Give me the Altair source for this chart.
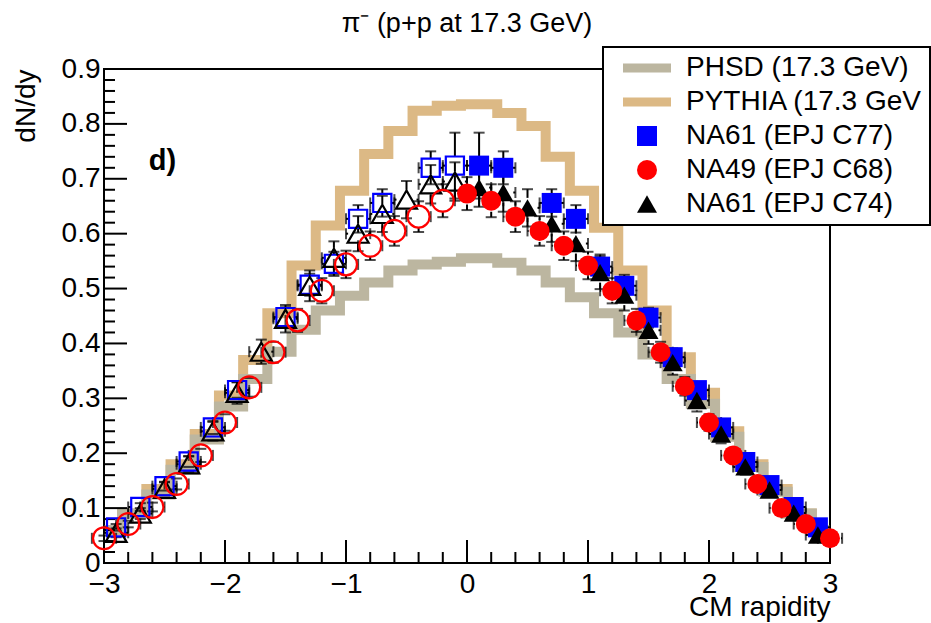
import altair as alt
import numpy as np
import pandas as pd

FONT = "Liberation Sans"

# ---------------- model histograms (bin edges in CM rapidity, heights dN/dy) -------------
hist_edges = [-3.0, -2.85, -2.65, -2.45, -2.25, -2.05, -1.85, -1.65, -1.45, -1.25, -1.05,
              -0.85, -0.65, -0.45, -0.25, -0.05, 0.25, 0.45, 0.65, 0.85, 1.05, 1.25, 1.45,
              1.65, 1.85, 2.05, 2.25, 2.45, 2.65, 2.85, 3.0]
pythia_h = [0.06, 0.09, 0.135, 0.18, 0.235, 0.305, 0.37, 0.455, 0.542, 0.615, 0.678, 0.745,
            0.787, 0.824, 0.833, 0.836, 0.82, 0.796, 0.74, 0.678, 0.611, 0.533, 0.46, 0.375,
            0.31, 0.24, 0.18, 0.135, 0.09, 0.06]
phsd_h = [0.06, 0.09, 0.125, 0.17, 0.225, 0.285, 0.335, 0.385, 0.425, 0.46, 0.487, 0.511,
          0.533, 0.544, 0.549, 0.555, 0.547, 0.533, 0.511, 0.484, 0.455, 0.42, 0.38, 0.335,
          0.29, 0.23, 0.175, 0.13, 0.09, 0.06]

# ---------------- NA61 (EPJ C77) blue squares ----------------
c77_x_fwd = [0.1, 0.3, 0.7, 0.9, 1.1, 1.3, 1.5, 1.7, 1.9, 2.1, 2.3, 2.5, 2.7, 2.9]
c77_y_fwd = [0.724, 0.720, 0.656, 0.627, 0.540, 0.505, 0.447, 0.375, 0.315, 0.247, 0.184,
             0.142, 0.102, 0.065]
c77_e_fwd = [0.06, 0.03, 0.025, 0.025, 0.022, 0.02, 0.018, 0.016, 0.014, 0.012, 0.01, 0.008,
             0.007, 0.006]
c77_x_bwd = [-2.9, -2.7, -2.5, -2.3, -2.1, -1.9, -1.5, -1.3, -1.1, -0.9, -0.7, -0.3, -0.1]
c77_y_bwd = [0.065, 0.102, 0.140, 0.185, 0.247, 0.315, 0.448, 0.507, 0.545, 0.627, 0.656,
             0.720, 0.724]
c77_e_bwd = [0.006, 0.007, 0.008, 0.01, 0.012, 0.014, 0.018, 0.02, 0.022, 0.025, 0.025, 0.03,
             0.06]

# ---------------- NA49 (EPJ C68) red circles ----------------
na49_x_fwd = [0.0, 0.2, 0.4, 0.6, 0.8, 1.0, 1.2, 1.4, 1.6, 1.8, 2.0, 2.2, 2.4, 2.6, 2.8, 3.0]
na49_y_fwd = [0.673, 0.660, 0.631, 0.605, 0.578, 0.542, 0.496, 0.442, 0.384, 0.322, 0.256,
              0.196, 0.144, 0.100, 0.071, 0.045]
na49_e_fwd = [0.03, 0.03, 0.028, 0.027, 0.026, 0.025, 0.023, 0.021, 0.019, 0.017, 0.015,
              0.012, 0.01, 0.008, 0.006, 0.005]
na49_x_bwd = [-3.0, -2.8, -2.6, -2.4, -2.2, -2.0, -1.8, -1.6, -1.4, -1.2, -1.0, -0.8, -0.6,
              -0.4, -0.2]
na49_y_bwd = [0.045, 0.071, 0.102, 0.144, 0.196, 0.256, 0.320, 0.384, 0.442, 0.496, 0.544,
              0.578, 0.605, 0.631, 0.660]
na49_e_bwd = [0.005, 0.006, 0.008, 0.01, 0.012, 0.015, 0.017, 0.019, 0.021, 0.023, 0.025,
              0.026, 0.027, 0.028, 0.03]

# ---------------- NA61 (EPJ C74) black triangles ----------------
c74_x_fwd = [0.1, 0.3, 0.5, 0.7, 0.9, 1.1, 1.3, 1.5, 1.7, 1.9, 2.1, 2.3, 2.5, 2.7, 2.9]
c74_y_fwd = [0.684, 0.675, 0.647, 0.618, 0.582, 0.529, 0.488, 0.424, 0.365, 0.296, 0.235,
             0.175, 0.133, 0.091, 0.051]
c74_e_fwd = [0.035, 0.035, 0.034, 0.033, 0.032, 0.03, 0.028, 0.025, 0.022, 0.02, 0.017,
             0.014, 0.012, 0.01, 0.008]
c74_x_bwd = [-2.9, -2.7, -2.5, -2.3, -2.1, -1.9, -1.7, -1.5, -1.3, -1.1, -0.9, -0.7, -0.5,
             -0.3, -0.1]
c74_y_bwd = [0.055, 0.090, 0.135, 0.180, 0.240, 0.310, 0.385, 0.445, 0.505, 0.556, 0.600,
             0.636, 0.662, 0.690, 0.695]
c74_e_bwd = [0.008, 0.01, 0.012, 0.014, 0.017, 0.02, 0.022, 0.025, 0.028, 0.03, 0.032,
             0.033, 0.034, 0.035, 0.035]

x_halfbin = 0.1

series_names = ["PHSD (17.3 GeV)", "PYTHIA (17.3 GeV", "NA61 (EPJ C77)", "NA49 (EPJ C68)",
                "NA61 (EPJ C74)"]

x_major = [-3, -2, -1, 0, 1, 2, 3]
y_major = [0.0, 0.1, 0.2, 0.3, 0.4, 0.5, 0.6, 0.7, 0.8, 0.9]
x_minor = [round(v, 2) for v in np.arange(-3.0, 3.001, 0.2) if abs(v - round(v)) > 1e-6]
y_minor = [round(v, 2) for v in np.arange(0.0, 0.9001, 0.02) if abs(v * 10 - round(v * 10)) > 1e-6]

# ---------------- styles ----------------
C_PHSD = "#BCB6A0"
C_PYTHIA = "#DCB985"
C_BLUE = "#0000FF"
C_RED = "#FF0000"
C_BLACK = "#000000"

W, H = 726, 494
X_DOM = [-3, 3]
Y_DOM = [0, 0.9]
# marker half-size in pixels (error bars stop at the marker edge, as in ROOT)
marker_half_px = {series_names[2]: 9, series_names[3]: 11, series_names[4]: 10}

xscale = alt.Scale(domain=X_DOM, nice=False, zero=False)
yscale = alt.Scale(domain=Y_DOM, nice=False, zero=False)
xaxis = alt.Axis(values=x_major, format="d", title="CM rapidity", labelFlush=False,
                 labelOverlap=False, labelPadding=7, ticks=False, tickSize=0, domain=False,
                 grid=False, titleX=W, titleY=52, titleAlign="right",
                 titleBaseline="alphabetic",
                 labelFont=FONT, labelFontSize=28, labelColor="black", titleFont=FONT,
                 titleFontSize=28, titleFontWeight="normal", titleColor="black")
yaxis = alt.Axis(values=y_major, format=".1~f", title="dN/dy", labelFlush=False,
                 labelOverlap=False, labelPadding=4, ticks=False, tickSize=0, domain=False,
                 grid=False, titleX=-78, titleY=0, titleAngle=270, titleAlign="right",
                 titleBaseline="middle",
                 labelFont=FONT, labelFontSize=28, labelColor="black", titleFont=FONT,
                 titleFontSize=28, titleFontWeight="normal", titleColor="black")


def X(f):
    return alt.X(f, type="quantitative", scale=xscale, axis=xaxis)


def Y(f):
    return alt.Y(f, type="quantitative", scale=yscale, axis=yaxis)


def hist_df(heights):
    return pd.DataFrame({"x": hist_edges, "y": list(heights) + [heights[-1]]})


pythia = alt.Chart(hist_df(pythia_h)).mark_line(
    interpolate="step-after", color=C_PYTHIA, strokeWidth=10, strokeCap="butt",
    strokeJoin="miter").encode(x=X("x"), y=Y("y"))
phsd = alt.Chart(hist_df(phsd_h)).mark_line(
    interpolate="step-after", color=C_PHSD, strokeWidth=10, strokeCap="butt",
    strokeJoin="miter").encode(x=X("x"), y=Y("y"))


def pts(xs, ys, es, name, filled):
    d = pd.DataFrame({"x": xs, "y": ys, "e": es})
    d["series"] = name
    d["filled"] = filled
    return d


all_pts = pd.concat([
    pts(c77_x_bwd, c77_y_bwd, c77_e_bwd, series_names[2], False),
    pts(c77_x_fwd, c77_y_fwd, c77_e_fwd, series_names[2], True),
    pts(c74_x_bwd, c74_y_bwd, c74_e_bwd, series_names[4], False),
    pts(c74_x_fwd, c74_y_fwd, c74_e_fwd, series_names[4], True),
    pts(na49_x_bwd, na49_y_bwd, na49_e_bwd, series_names[3], False),
    pts(na49_x_fwd, na49_y_fwd, na49_e_fwd, series_names[3], True),
], ignore_index=True)
all_pts["ylo"] = all_pts["y"] - all_pts["e"]
all_pts["yhi"] = all_pts["y"] + all_pts["e"]
all_pts["xlo"] = all_pts["x"] - x_halfbin
all_pts["xhi"] = all_pts["x"] + x_halfbin
half = all_pts["series"].map(marker_half_px)
gy = half * (Y_DOM[1] - Y_DOM[0]) / H
gx = half * (X_DOM[1] - X_DOM[0]) / W

# error-bar segments outside the marker
seg_rows = []
for i, r in all_pts.iterrows():
    if r["yhi"] > r["y"] + gy[i]:
        seg_rows.append({"x": r["x"], "x2": r["x"], "y": r["y"] + gy[i], "y2": r["yhi"]})
        seg_rows.append({"x": r["x"], "x2": r["x"], "y": r["ylo"], "y2": r["y"] - gy[i]})
    if r["xhi"] > r["x"] + gx[i]:
        seg_rows.append({"x": r["x"] + gx[i], "x2": r["xhi"], "y": r["y"], "y2": r["y"]})
        seg_rows.append({"x": r["xlo"], "x2": r["x"] - gx[i], "y": r["y"], "y2": r["y"]})
segs = pd.DataFrame(seg_rows)

err_seg = alt.Chart(segs).mark_rule(color=C_BLACK, strokeWidth=2).encode(
    x=X("x"), x2="x2", y=Y("y"), y2="y2")

base = alt.Chart(all_pts)
cap_lo = base.mark_tick(orient="horizontal", color=C_BLACK, size=11, thickness=2).encode(
    x=X("x"), y=Y("ylo"))
cap_hi = base.mark_tick(orient="horizontal", color=C_BLACK, size=11, thickness=2).encode(
    x=X("x"), y=Y("yhi"))
cap_l = base.mark_tick(orient="vertical", color=C_BLACK, size=11, thickness=2).encode(
    x=X("xlo"), y=Y("y"))
cap_r = base.mark_tick(orient="vertical", color=C_BLACK, size=11, thickness=2).encode(
    x=X("xhi"), y=Y("y"))

open_sq = alt.Chart(all_pts[(all_pts.series == series_names[2]) & (~all_pts.filled)]).mark_point(
    shape="square", filled=False, color=C_BLUE, strokeWidth=2.2, size=330, opacity=1).encode(
    x=X("x"), y=Y("y"))
open_tr = alt.Chart(all_pts[(all_pts.series == series_names[4]) & (~all_pts.filled)]).mark_point(
    shape="triangle-up", filled=False, color=C_BLACK, strokeWidth=2.2, size=440, opacity=1).encode(
    x=X("x"), y=Y("y"))
open_ci = alt.Chart(all_pts[(all_pts.series == series_names[3]) & (~all_pts.filled)]).mark_point(
    shape="circle", filled=False, color=C_RED, strokeWidth=2.2, size=480, opacity=1).encode(
    x=X("x"), y=Y("y"))

RECT = "M-2.4,-0.45L2.4,-0.45L2.4,0.45L-2.4,0.45Z"
legend = alt.Legend(title=None, orient="none", legendX=499, legendY=-22, fillColor="white",
                    strokeColor="black", padding=7, labelFontSize=28,
                    labelFont=FONT, labelColor="black", symbolOffset=23, labelOffset=25,
                    rowPadding=6, symbolStrokeWidth=0, symbolOpacity=1, labelLimit=500,
                    direction="vertical")
filled_pts = alt.Chart(all_pts[all_pts.filled]).mark_point(
    filled=True, opacity=1, strokeWidth=0).encode(
    x=X("x"), y=Y("y"),
    color=alt.Color("series:N", scale=alt.Scale(domain=series_names,
                                                 range=[C_PHSD, C_PYTHIA, C_BLUE, C_RED, C_BLACK]),
                    legend=legend),
    shape=alt.Shape("series:N", scale=alt.Scale(domain=series_names,
                                                 range=[RECT, RECT, "square", "circle",
                                                        "triangle-up"]),
                    legend=legend),
    size=alt.Size("series:N", scale=alt.Scale(domain=series_names,
                                               range=[400, 400, 330, 480, 440]),
                  legend=legend),
)

label_df = pd.DataFrame({"x": [-2.63], "y": [0.733], "t": ["d)"]})
panel_label = alt.Chart(label_df).mark_text(
    align="left", baseline="middle", fontSize=29, fontWeight="bold", font=FONT,
    color="black").encode(x=X("x"), y=Y("y"), text="t:N")

ytick_major = alt.Chart(pd.DataFrame({"v": y_major})).mark_rule(
    color="black", strokeWidth=2).encode(y=Y("v"), x=alt.value(0), x2=alt.value(23))
ytick_minor = alt.Chart(pd.DataFrame({"v": y_minor})).mark_rule(
    color="black", strokeWidth=2).encode(y=Y("v"), x=alt.value(0), x2=alt.value(11))
xtick_major = alt.Chart(pd.DataFrame({"v": x_major})).mark_rule(
    color="black", strokeWidth=2).encode(x=X("v"), y=alt.value(H), y2=alt.value(H - 23))
xtick_minor = alt.Chart(pd.DataFrame({"v": x_minor})).mark_rule(
    color="black", strokeWidth=2).encode(x=X("v"), y=alt.value(H), y2=alt.value(H - 11))

chart = alt.layer(
    pythia, phsd, ytick_major, ytick_minor, xtick_major, xtick_minor,
    err_seg, cap_lo, cap_hi, cap_l, cap_r,
    open_sq, open_tr, open_ci, filled_pts, panel_label,
).properties(
    width=W, height=H,
    background="white",
    padding={"left": 104, "top": 69, "right": 101, "bottom": 60},
    autosize=alt.AutoSizeParams(type="none"),
    title=alt.Title(text="π⁻ (p+p at 17.3 GeV)", fontSize=27, font=FONT, fontWeight="normal",
                    anchor="middle", frame="group", offset=8, color="black"),
).configure_view(
    stroke="black", strokeWidth=2
).configure_legend(
    strokeWidth=2
)

chart.save("out.html", embed_options={"renderer": "svg", "actions": False})
